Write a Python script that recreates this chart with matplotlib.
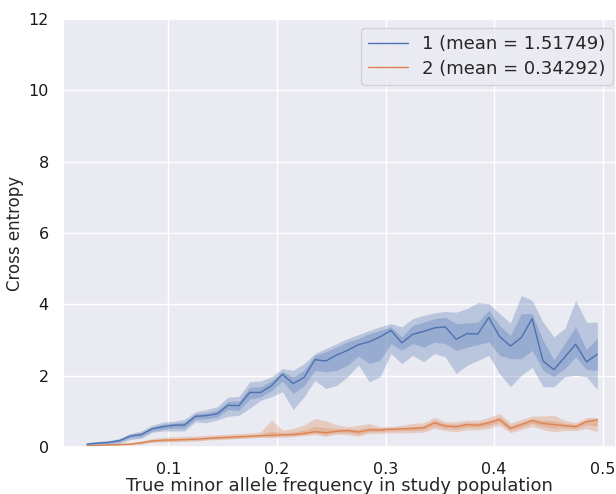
import matplotlib
matplotlib.use('Agg')
import matplotlib.pyplot as plt
import seaborn as sns

# bin centres (true minor allele frequency)
maf = [0.025, 0.035, 0.045, 0.055, 0.065, 0.075, 0.085, 0.095, 0.105, 0.115,
       0.125, 0.135, 0.145, 0.155, 0.165, 0.175, 0.185, 0.195, 0.205, 0.215,
       0.225, 0.235, 0.245, 0.255, 0.265, 0.275, 0.285, 0.295, 0.305, 0.315,
       0.325, 0.335, 0.345, 0.355, 0.365, 0.375, 0.385, 0.395, 0.405, 0.415,
       0.425, 0.435, 0.445, 0.455, 0.465, 0.475, 0.485, 0.495]

# series 1
mid1 = [0.08, 0.11, 0.13, 0.18, 0.31, 0.35, 0.51, 0.57, 0.61, 0.62,
        0.86, 0.88, 0.93, 1.17, 1.16, 1.53, 1.53, 1.72, 2.04, 1.78,
        1.95, 2.45, 2.41, 2.58, 2.71, 2.87, 2.95, 3.09, 3.27, 2.92,
        3.16, 3.24, 3.34, 3.37, 3.02, 3.18, 3.17, 3.63, 3.10, 2.83,
        3.07, 3.60, 2.41, 2.17, 2.52, 2.88, 2.39, 2.60]
hi_out1 = [0.13, 0.16, 0.18, 0.24, 0.38, 0.45, 0.61, 0.70, 0.72, 0.78,
           0.99, 1.05, 1.13, 1.40, 1.42, 1.83, 1.85, 1.97, 2.20, 2.15,
           2.34, 2.62, 2.76, 2.90, 3.04, 3.15, 3.27, 3.37, 3.46, 3.37,
           3.60, 3.69, 3.76, 3.80, 3.78, 3.88, 4.05, 4.02, 3.74, 3.48,
           4.25, 4.11, 3.50, 3.09, 3.32, 4.11, 3.50, 3.50]
hi_in1 = [0.11, 0.14, 0.16, 0.21, 0.35, 0.40, 0.56, 0.64, 0.67, 0.70,
          0.93, 0.96, 1.03, 1.28, 1.29, 1.68, 1.69, 1.85, 2.12, 1.96,
          2.15, 2.57, 2.67, 2.81, 2.95, 3.04, 3.18, 3.27, 3.37, 3.09,
          3.41, 3.50, 3.60, 3.64, 3.46, 3.48, 3.50, 3.83, 3.41, 3.13,
          3.74, 3.74, 2.99, 2.45, 2.90, 3.37, 2.73, 3.06]
lo_in1 = [0.05, 0.08, 0.10, 0.14, 0.26, 0.29, 0.45, 0.50, 0.53, 0.53,
          0.78, 0.79, 0.84, 1.05, 1.03, 1.35, 1.40, 1.58, 1.85, 1.50,
          1.72, 2.15, 2.11, 2.15, 2.29, 2.55, 2.34, 2.43, 2.90, 2.71,
          2.90, 2.80, 2.94, 2.90, 2.71, 2.80, 2.87, 2.95, 2.57, 2.48,
          2.48, 2.71, 2.15, 1.97, 2.20, 2.53, 2.17, 2.15]
lo_out1 = [0.03, 0.06, 0.08, 0.11, 0.21, 0.24, 0.41, 0.45, 0.45, 0.45,
           0.71, 0.68, 0.76, 0.86, 0.89, 1.09, 1.31, 1.41, 1.55, 1.05,
           1.41, 1.87, 1.64, 1.73, 1.97, 2.30, 1.83, 1.97, 2.62, 2.34,
           2.57, 2.39, 2.62, 2.53, 2.06, 2.29, 2.43, 2.57, 2.06, 1.69,
           2.01, 2.23, 1.69, 1.69, 1.97, 2.01, 1.97, 1.61]

# series 2
mid2 = [0.04, 0.04, 0.06, 0.07, 0.08, 0.12, 0.17, 0.19, 0.20, 0.21,
        0.22, 0.24, 0.26, 0.27, 0.29, 0.30, 0.32, 0.33, 0.34, 0.35,
        0.38, 0.43, 0.40, 0.44, 0.46, 0.42, 0.48, 0.48, 0.50, 0.51,
        0.52, 0.54, 0.68, 0.59, 0.57, 0.63, 0.61, 0.68, 0.77, 0.52,
        0.63, 0.74, 0.66, 0.63, 0.60, 0.57, 0.71, 0.76]
hi_out2 = [0.06, 0.07, 0.09, 0.10, 0.12, 0.17, 0.24, 0.27, 0.29, 0.30,
           0.31, 0.33, 0.35, 0.36, 0.38, 0.39, 0.42, 0.76, 0.47, 0.52,
           0.62, 0.80, 0.74, 0.62, 0.57, 0.61, 0.66, 0.57, 0.58, 0.61,
           0.66, 0.68, 0.83, 0.71, 0.71, 0.75, 0.75, 0.83, 0.94, 0.68,
           0.77, 0.87, 0.87, 0.89, 0.75, 0.68, 0.83, 0.83]
hi_in2 = [0.05, 0.05, 0.07, 0.09, 0.10, 0.14, 0.20, 0.23, 0.24, 0.25,
          0.26, 0.28, 0.30, 0.31, 0.33, 0.34, 0.36, 0.45, 0.40, 0.42,
          0.48, 0.58, 0.54, 0.52, 0.52, 0.50, 0.56, 0.53, 0.54, 0.56,
          0.58, 0.60, 0.75, 0.65, 0.64, 0.69, 0.68, 0.75, 0.85, 0.60,
          0.70, 0.80, 0.75, 0.74, 0.67, 0.63, 0.77, 0.80]
lo_in2 = [0.03, 0.03, 0.05, 0.06, 0.07, 0.10, 0.15, 0.16, 0.17, 0.18,
          0.19, 0.21, 0.23, 0.24, 0.26, 0.27, 0.29, 0.30, 0.31, 0.32,
          0.35, 0.39, 0.35, 0.40, 0.40, 0.36, 0.43, 0.43, 0.45, 0.46,
          0.46, 0.48, 0.60, 0.52, 0.50, 0.56, 0.55, 0.60, 0.69, 0.46,
          0.56, 0.66, 0.57, 0.53, 0.53, 0.52, 0.62, 0.60]
lo_out2 = [0.02, 0.02, 0.04, 0.05, 0.06, 0.08, 0.13, 0.14, 0.15, 0.16,
           0.17, 0.19, 0.21, 0.22, 0.24, 0.25, 0.27, 0.26, 0.28, 0.29,
           0.32, 0.35, 0.30, 0.36, 0.34, 0.31, 0.38, 0.38, 0.40, 0.40,
           0.40, 0.42, 0.52, 0.46, 0.43, 0.48, 0.48, 0.52, 0.61, 0.40,
           0.49, 0.58, 0.49, 0.43, 0.46, 0.46, 0.52, 0.43]

labels = ['1 (mean = 1.51749)', '2 (mean = 0.34292)']

sns.set_theme(style='darkgrid', context='notebook')
plt.rcParams['font.family'] = ['DejaVu Sans']

fig = plt.figure(figsize=(6.16, 4.94), dpi=100)
ax = fig.add_axes([0.1015, 0.0951, 0.8985, 0.8664])

pal = sns.color_palette('deep')
series = [(mid1, lo_in1, hi_in1, lo_out1, hi_out1),
          (mid2, lo_in2, hi_in2, lo_out2, hi_out2)]
for k, (m, li, hi, lo, ho) in enumerate(series):
    c = pal[k]
    ax.fill_between(maf, lo, ho, color=c, alpha=0.3, linewidth=0)
    ax.fill_between(maf, li, hi, color=c, alpha=0.3, linewidth=0)
    ax.plot(maf, m, color=c, linewidth=1, label=labels[k])

ax.set_xlim(0.0026, 0.5122)
ax.set_ylim(0, 12)
ax.set_xticks([0.1, 0.2, 0.3, 0.4, 0.5])
ax.set_xlabel('True minor allele frequency in study population', fontsize=13, labelpad=0.5)
ax.set_ylabel('Cross entropy', fontsize=12, labelpad=3)
ax.tick_params(labelsize=11.5, colors='0.1')
ax.tick_params(axis='x', pad=4.5)
ax.tick_params(axis='y', pad=4)
ax.legend(loc='upper right', bbox_to_anchor=(1.011, 1.0), fontsize=13,
          labelspacing=0.35, handlelength=2.2)

plt.savefig('out.png', dpi=100)
plt.close()
